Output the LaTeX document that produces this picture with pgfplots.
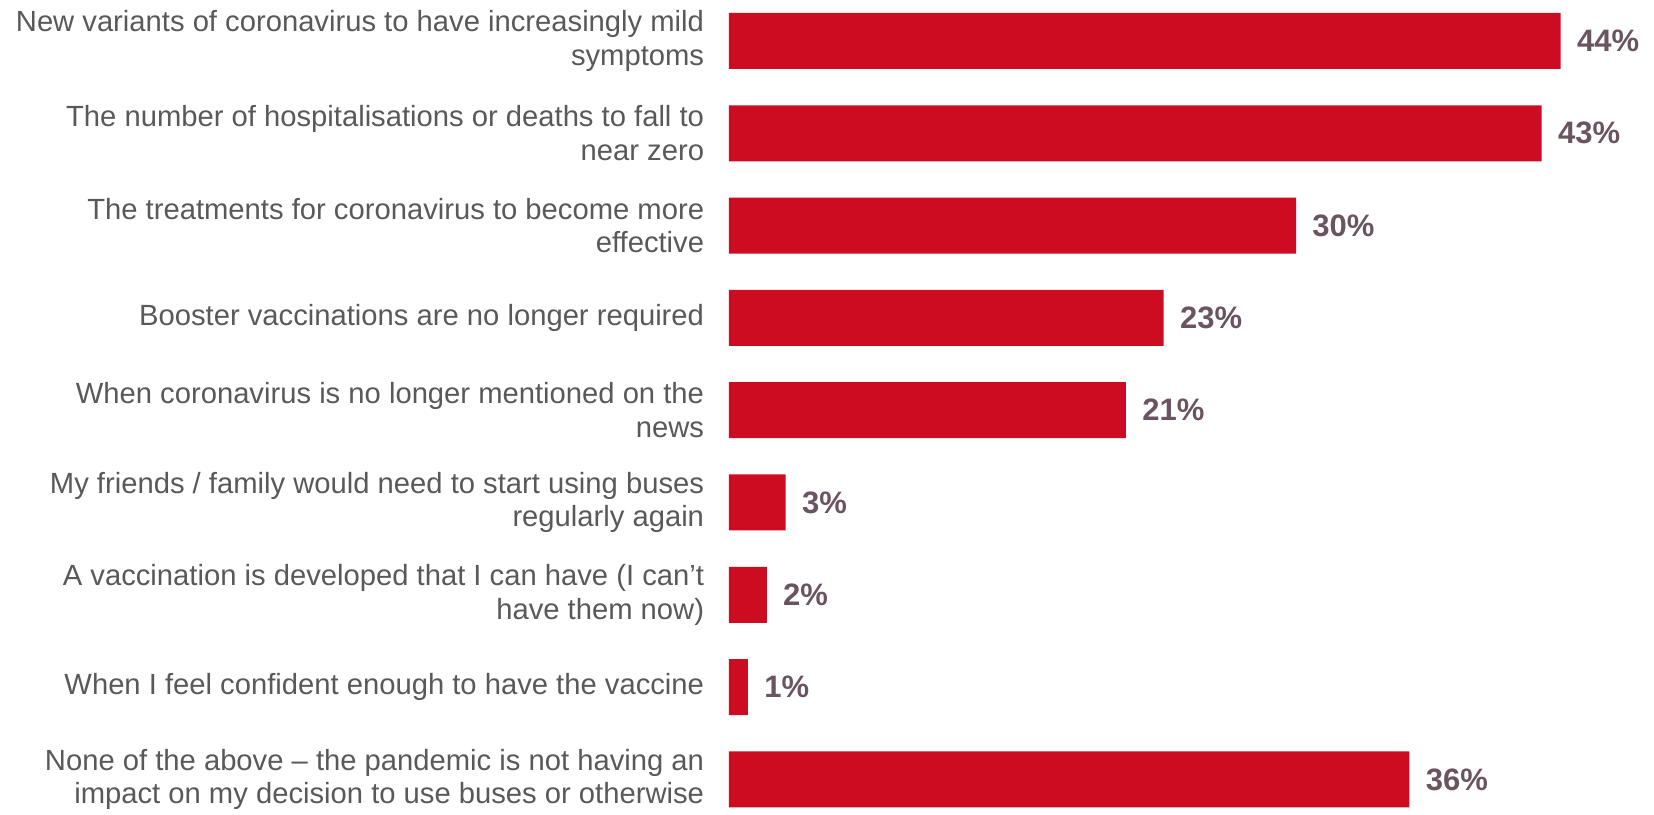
\documentclass[border=0pt]{standalone}
\usepackage{pgfplots}
\pgfplotsset{compat=1.18}
\usepackage{fontspec}
\setmainfont{Liberation Sans}
\definecolor{barred}{RGB}{204,12,33}
\definecolor{valcol}{RGB}{107,84,97}
\definecolor{labgray}{RGB}{89,89,89}
\begin{document}
\begin{tikzpicture}
\begin{axis}[
  xbar,
  scale only axis,
  width=462.5pt, height=407pt,
  xmin=0, xmax=48.94,
  ymin=-0.444, ymax=8.375,
  y dir=reverse,
  axis line style={draw=none},
  tick style={draw=none},
  xtick=\empty,
  ytick={0,1,2,3,4,5,6,7,8},
  yticklabels={
    {New variants of coronavirus to have increasingly mild\\symptoms},
    {The number of hospitalisations or deaths to fall to\\near zero},
    {The treatments for coronavirus to become more\\effective},
    {Booster vaccinations are no longer required},
    {When coronavirus is no longer mentioned on the\\news},
    {My friends / family would need to start using buses\\regularly again},
    {A vaccination is developed that I can have (I can’t\\have them now)},
    {When I feel confident enough to have the vaccine},
    {None of the above – the pandemic is not having an\\impact on my decision to use buses or otherwise}},
  yticklabel style={text=labgray, font=\fontsize{14.6}{16.75}\selectfont, align=right, anchor=east, inner sep=0pt, xshift=-8pt},
  bar width=28pt,
  bar shift=0pt,
  clip=false,
  nodes near coords={\pgfmathprintnumber[assume math mode=true]{\pgfplotspointmeta}\%},
  every node near coord/.append style={font=\fontsize{15.5}{18}\selectfont\bfseries, text=valcol, anchor=west, inner sep=0pt, xshift=8pt},
]
\addplot[fill=barred, draw=none] coordinates {(44,0) (43,1) (30,2) (23,3) (21,4) (3,5) (2,6) (1,7) (36,8)};
\end{axis}
\pgfresetboundingbox
\path ([xshift=-364.5pt]current axis.south west) rectangle (current axis.north east);
\end{tikzpicture}
\end{document}
